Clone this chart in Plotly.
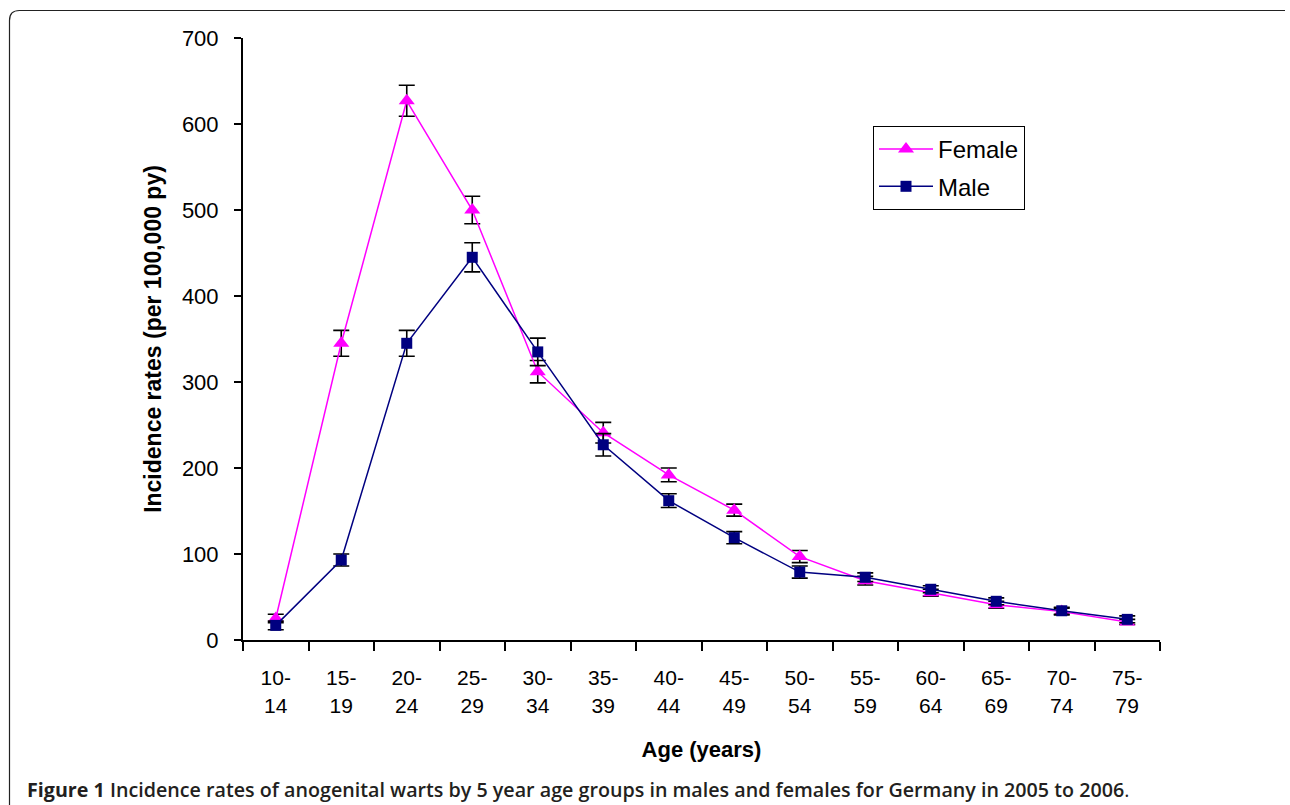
import plotly.graph_objects as go

categories = ["10-14", "15-19", "20-24", "25-29", "30-34", "35-39", "40-44",
              "45-49", "50-54", "55-59", "60-64", "65-69", "70-74", "75-79"]
female = [25, 345, 627, 500, 312, 241, 192, 151, 97, 69, 55, 41, 33, 21]
female_err = [5, 15, 18, 16, 13, 12, 8, 7, 7, 5, 4, 4, 4, 3]
male = [17, 93, 345, 445, 335, 227, 162, 119, 79, 73, 59, 45, 34, 24]
male_err = [5, 7, 15, 17, 16, 13, 8, 7, 7, 5, 4, 4, 4, 4]
y_ticks = [0, 100, 200, 300, 400, 500, 600, 700]
tick_text = [c.replace("-", "-<br>") for c in categories]

W, H = 1290, 805
L, R, T, B = 243, 130, 38, 165
PW, PH = W - L - R, H - T - B


def px(x):
    return (x - L) / PW


def py(y):
    return (H - B - y) / PH


FONT = "Liberation Sans, Arial, sans-serif"

fig = go.Figure()
fig.add_trace(go.Scatter(
    x=categories, y=female, name="Female", mode="lines+markers",
    line=dict(color="#FF00FF", width=1.5),
    marker=dict(symbol="triangle-up", size=14, color="#FF00FF"),
    error_y=dict(type="data", array=female_err, visible=True,
                 color="black", thickness=1.6, width=8),
    legendgroup="f",
))
fig.add_trace(go.Scatter(
    x=categories, y=male, name="Male", mode="lines+markers",
    line=dict(color="#000080", width=1.5),
    marker=dict(symbol="square", size=11, color="#000080"),
    error_y=dict(type="data", array=male_err, visible=True,
                 color="black", thickness=1.6, width=8),
    legendgroup="m",
))

# rounded frame (left + top edges)
r = 10
x0, y0, x1, yb = px(9.5), py(10.5), px(1285), py(806)
path = (f"M {x0},{yb} L {x0},{py(10.5 + r)} "
        f"Q {x0},{y0} {px(9.5 + r)},{y0} L {x1},{y0}")

fig.update_layout(
    width=W, height=H,
    margin=dict(l=L, r=R, t=T, b=B, autoexpand=False),
    paper_bgcolor="white", plot_bgcolor="white",
    font=dict(family=FONT, color="black", size=20),
    showlegend=True,
    legend=dict(
        x=px(873), y=py(126), xanchor="left", yanchor="top",
        bgcolor="white", bordercolor="black", borderwidth=1,
        font=dict(size=24, family=FONT), itemwidth=54,
        tracegroupgap=3,
    ),
    xaxis=dict(
        type="category", categoryorder="array", categoryarray=categories,
        tickmode="array", tickvals=categories, ticktext=tick_text,
        tickson="boundaries", ticks="outside", ticklen=9, tickwidth=1.5,
        tickcolor="black", showline=True, linecolor="black", linewidth=2,
        showgrid=False, zeroline=False, range=[-0.5, len(categories) - 0.5],
        tickfont=dict(size=21, family=FONT), ticklabelstandoff=18,
        title=dict(text="<b>Age (years)</b>", font=dict(size=22, family=FONT),
                   standoff=26),
    ),
    yaxis=dict(
        range=[0, 700], tickmode="array", tickvals=y_ticks,
        ticks="outside", ticklen=7, tickwidth=1.5, tickcolor="black",
        showline=True, linecolor="black", linewidth=2,
        showgrid=False, zeroline=False,
        tickfont=dict(size=22, family=FONT), ticklabelstandoff=11,
        title=dict(text="<b>Incidence rates (per 100,000 py)</b>",
                   font=dict(size=23, family=FONT), standoff=14),
    ),
    shapes=[dict(type="path", path=path, xref="paper", yref="paper",
                 line=dict(color="#222222", width=1.2))],
    annotations=[dict(
        x=px(25), y=py(789), xref="paper", yref="paper",
        xanchor="left", yanchor="middle", showarrow=False,
        text=("<b>Figure 1</b> <span style='font-weight:600'>Incidence rates of anogenital warts "
              "by 5 year age groups in males and females for Germany in 2005 to 2006</span>."),
        font=dict(size=19.7, family="Open Sans, sans-serif", color="#231f20"),
    )],
)

fig.write_html("out.html", config={"displayModeBar": False},
               post_script="document.body.style.margin='0';document.body.style.overflow='hidden';")
